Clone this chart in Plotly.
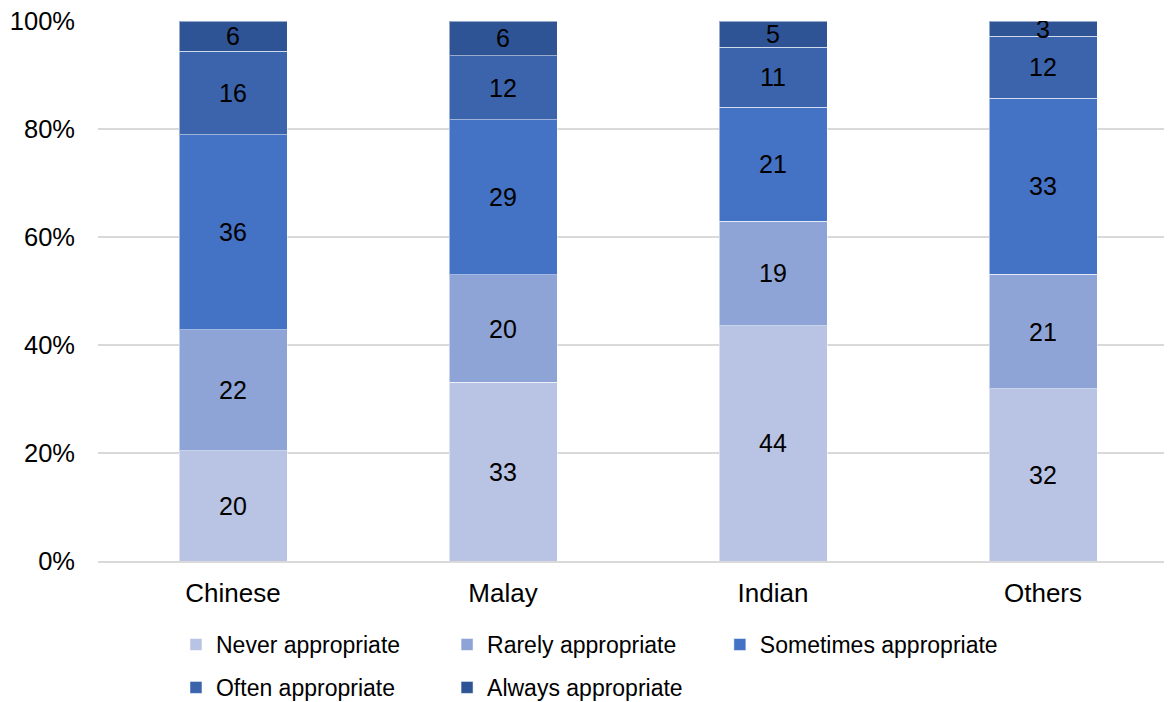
import plotly.graph_objects as go

categories = ["Chinese", "Malay", "Indian", "Others"]
series_names = ["Never appropriate", "Rarely appropriate", "Sometimes appropriate",
                "Often appropriate", "Always appropriate"]
never = [20.4, 33.1, 43.6, 31.9]
rarely = [22.4, 19.9, 19.3, 21.2]
sometimes = [36.1, 28.7, 21.1, 32.6]
often = [15.5, 11.9, 11.1, 11.5]
always = [5.6, 6.4, 4.9, 2.8]
series_values = [never, rarely, sometimes, often, always]
colors = ["#B9C3E3", "#8EA4D6", "#4472C4", "#3B64AD", "#2F5495"]
y_ticks = [0, 20, 40, 60, 80, 100]
y_ticktext = ["0%", "20%", "40%", "60%", "80%", "100%"]

FONT = "Liberation Sans, Arial, sans-serif"

# one legend box per entry, arranged in a 3 + 2 grid like the original
legend_ids = ["legend", "legend2", "legend3", "legend4", "legend5"]
legend_x = [0.0722, 0.3232, 0.5758, 0.0722, 0.3232]
legend_y = [0.1138, 0.1138, 0.1138, 0.0519, 0.0519]

fig = go.Figure()
for name, vals, col, lg in zip(series_names, series_values, colors, legend_ids):
    fig.add_trace(go.Bar(
        name=name, x=categories, y=vals, legend=lg,
        marker=dict(color=col, line=dict(color="rgba(255,255,255,0.5)", width=1)),
        text=[f"{round(v)}" for v in vals],
        texttemplate="%{text}",
        textposition="inside", insidetextanchor="middle", textangle=0,
        textfont=dict(family=FONT, size=25, color="black"),
        hoverinfo="skip",
    ))

legend_layout = {}
for lg, lx, ly in zip(legend_ids, legend_x, legend_y):
    legend_layout[lg] = dict(orientation="h", xanchor="left", yanchor="top",
                             xref="paper", yref="container",
                             x=lx, y=ly, itemwidth=30,
                             font=dict(size=23, family=FONT, color="black"),
                             bgcolor="rgba(0,0,0,0)")

fig.update_layout(
    barmode="stack", bargap=0.6,
    width=1170, height=694,
    margin=dict(l=90, r=0, t=13, b=141, autoexpand=False),
    plot_bgcolor="white", paper_bgcolor="white",
    font=dict(family=FONT, size=23, color="black"),
    uniformtext=dict(minsize=25, mode="show"),
    showlegend=True,
    **legend_layout,
)
fig.update_xaxes(showline=True, linecolor="#D9D9D9", linewidth=1.5, ticks="",
                 tickfont=dict(size=26, family=FONT), ticklabelstandoff=8)
fig.update_yaxes(range=[0, 100], tickvals=y_ticks, ticktext=y_ticktext,
                 showgrid=True, gridcolor="#D9D9D9", gridwidth=1.5, zeroline=False,
                 showline=False, ticks="", tickfont=dict(size=25.5, family=FONT),
                 ticklabelstandoff=22, ticklabeloverflow="allow")

fig.write_html("out.html")
